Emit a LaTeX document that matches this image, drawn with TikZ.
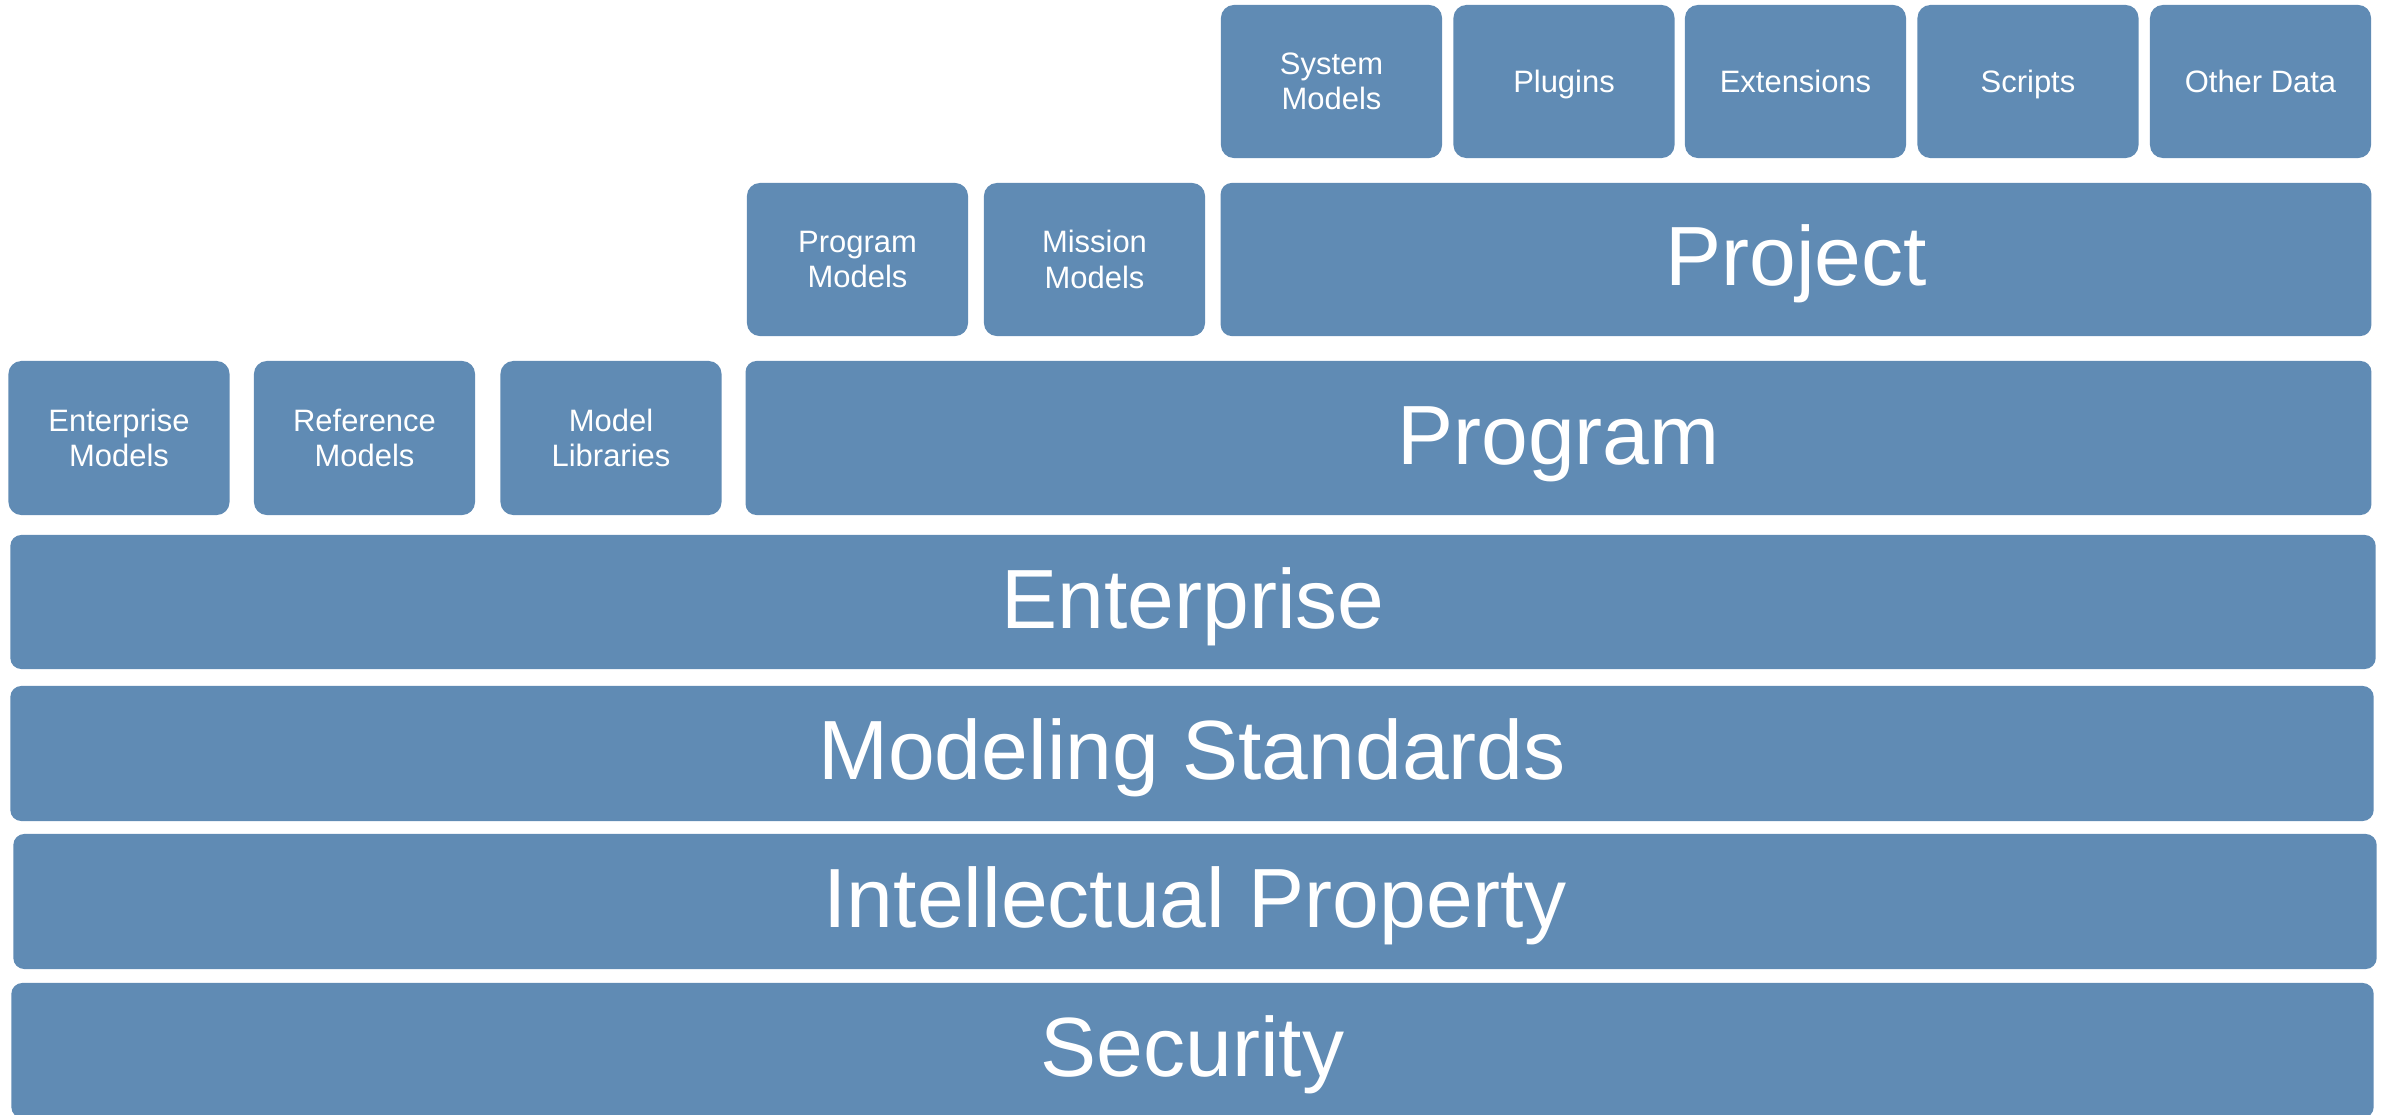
\documentclass[tikz,border=0pt]{standalone}
\usepackage{fontspec}
\setmainfont{Liberation Sans}
\definecolor{tileblue}{RGB}{96,139,180}
\tikzset{
  tile/.style={fill=tileblue, rounded corners=0.13cm, text=white, align=center,
    inner sep=0pt, minimum width=2.21cm, minimum height=1.53cm,
    font=\fontsize{8.8}{10}\selectfont},
  onetile/.style={tile, text height=0.22cm, text depth=0pt},
  layer/.style={fill=tileblue, rounded corners=0.11cm, text=white,
    inner sep=0pt, minimum height=1.35cm, text height=0.6cm, text depth=0.08cm,
    font=\fontsize{23.9}{28}\selectfont}
}
\begin{document}
\begin{tikzpicture}[x=0.01cm, y=-0.01cm]
      \useasboundingbox (0,0) rectangle (2387,1115);
      % top row
      \node[tile] (sysmod) at (1331.5,81.5) {System\\Models};
      \node[onetile] (plugins) at (1564,81.5) {Plugins};
      \node[onetile] (ext) at (1795.5,81.5) {Extensions};
      \node[onetile] (scripts) at (2028,81.5) {Scripts};
      \node[onetile] (other) at (2260.5,81.5) {Other Data};
      % project row
      \node[tile] (progmod) at (857.5,259.5) {Program\\Models};
      \node[tile] (mismod) at (1094.5,259.5) {Mission\\Models};
      \node[layer, minimum width=11.5cm, minimum height=1.53cm] (project) at (1796,259.5) {Project};
      % program row
      \node[tile, minimum height=1.54cm] (entmod) at (119,438) {Enterprise\\Models};
      \node[tile, minimum height=1.54cm] (refmod) at (364.5,438) {Reference\\Models};
      \node[tile, minimum height=1.54cm] (modlib) at (611,438) {Model\\Libraries};
      \node[layer, minimum width=16.25cm, minimum height=1.54cm] (program) at (1558.5,438) {Program};
      % base layers
      \node[layer, minimum width=23.64cm, minimum height=1.34cm] (enterprise) at (1193,602) {Enterprise};
      \node[layer, minimum width=23.62cm] (modeling) at (1192,753.5) {Modeling Standards};
      \node[layer, minimum width=23.62cm] (ip) at (1195,901.5) {Intellectual Property};
      \node[layer, minimum width=23.61cm] (security) at (1192.5,1050.5) {Security};
    \end{tikzpicture}
\end{document}
